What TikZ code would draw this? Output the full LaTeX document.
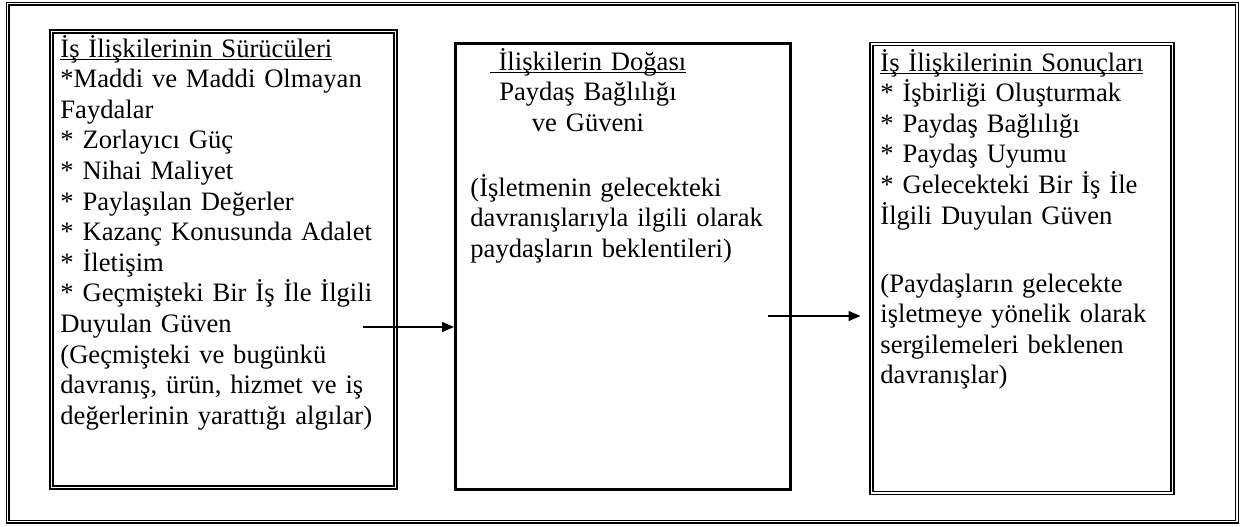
\documentclass[tikz,border=0pt]{standalone}
\usepackage{fontspec}
\setmainfont{Liberation Serif}
\usetikzlibrary{arrows.meta}
\newcommand\wordul[1]{\setbox0\hbox{#1}\rlap{\rule[-1.7pt]{\wd0}{0.8pt}}\box0}
\begin{document}
\begin{tikzpicture}[x=0.5pt,y=-0.5pt,
  txt/.style={inner sep=0pt, anchor=base west, align=left, text width=185pt,
    font=\fontsize{13.3pt}{15.3pt}\selectfont},
  ctxt/.style={inner sep=0pt, anchor=base, align=center, text width=140pt,
    font=\fontsize{13.3pt}{15.3pt}\selectfont},
  dbox/.style={draw, double, line width=0.75pt, double distance=0.75pt,
    rectangle, inner sep=0pt, anchor=north west},
  tbox/.style={draw, line width=1.7pt, rectangle, inner sep=0pt, anchor=north west},
  arr/.style={line width=0.65pt, -{Triangle[length=6pt,width=5pt]}}]
\useasboundingbox (0,0) rectangle (1244,526);
% outer frame
\node[draw, double, line width=0.7pt, double distance=0.7pt, rectangle, inner sep=0pt,
  anchor=north west, minimum width=614.6pt, minimum height=259pt] (frame) at (7,3) {};
% boxes
\node[dbox, minimum width=172pt, minimum height=228.2pt] (drv) at (50.5,30.5) {};
\node[tbox, minimum width=167.3pt, minimum height=222.9pt] (nat) at (454,41.7) {};
\node[dbox, minimum width=150.7pt, minimum height=224.6pt] (res) at (870.5,43.2) {};
% texts
\node[txt] (drvtxt) at (60,57) {\wordul{İş İlişkilerinin Sürücüleri}\\
{*}Maddi ve Maddi Olmayan\\
Faydalar\\
{*} Zorlayıcı Güç\\
{*} Nihai Maliyet\\
{*} Paylaşılan Değerler\\
{*} Kazanç Konusunda Adalet\\
{*} İletişim\\
{*} Geçmişteki Bir İş İle İlgili\\
Duyulan Güven\\
(Geçmişteki ve bugünkü\\
davranış, ürün, hizmet ve iş\\
değerlerinin yarattığı algılar)};
\node[ctxt] (nathead) at (588,70) {\wordul{\ İlişkilerin Doğası}\\
Paydaş Bağlılığı\\
ve Güveni};
\node[txt] (natpara) at (470,196) {(İşletmenin gelecekteki\\
davranışlarıyla ilgili olarak\\
paydaşların beklentileri)};
\node[txt] (reslist) at (880,71) {\wordul{İş İlişkilerinin Sonuçları}\\
{*} İşbirliği Oluşturmak\\
{*} Paydaş Bağlılığı\\
{*} Paydaş Uyumu\\
{*} Gelecekteki Bir İş İle\\
İlgili Duyulan Güven};
\node[txt] (respara) at (880,292) {(Paydaşların gelecekte\\
işletmeye yönelik olarak\\
sergilemeleri beklenen\\
davranışlar)};
% arrows
\coordinate (a1s) at (363,327);
\coordinate (a2s) at (768,316);
\draw[arr] (a1s) -- (nat.west |- a1s);
\draw[arr, shorten >=5pt] (a2s) -- (res.west |- a2s);
\end{tikzpicture}
\end{document}
